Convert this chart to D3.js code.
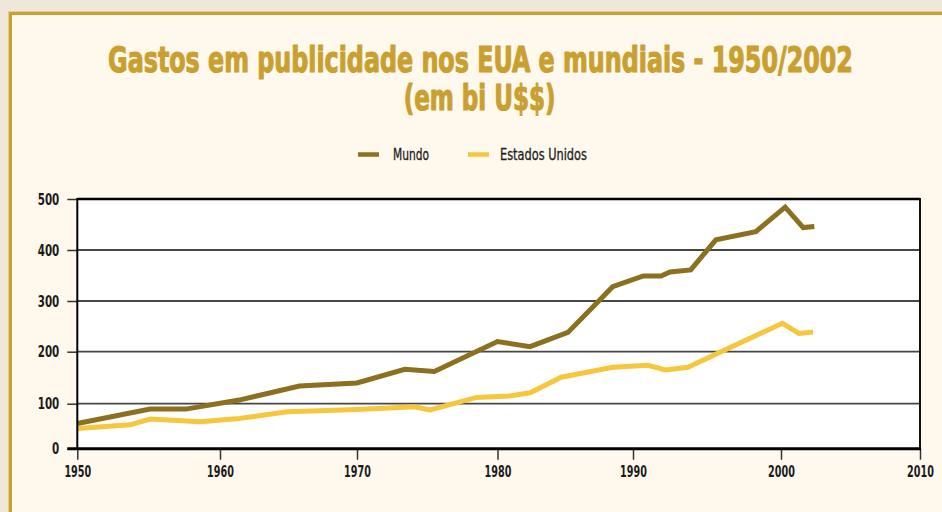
<!DOCTYPE html>
<html>
<head>
<meta charset="utf-8">
<script src="https://cdn.jsdelivr.net/npm/d3@7"></script>
<style>
  html, body { margin: 0; padding: 0; background: #efe8d8; }
  svg { display: block; }
  text { font-family: "Liberation Sans Narrow", "DejaVu Sans Condensed", "Liberation Sans", sans-serif; }
</style>
</head>
<body>
<svg id="chart" width="942" height="512"></svg>
<script>
// ---- Data ----
const titleLines = ["Gastos em publicidade nos EUA e mundiais - 1950/2002", "(em bi U$$)"];
const seriesNames = ["Mundo", "Estados Unidos"];

const mundoYears  = [1950, 1955.1, 1957.6, 1961.4, 1965.8, 1970, 1973.4, 1975.5, 1980, 1982.4, 1985.2, 1988.5, 1990.7, 1991.9, 1992.5, 1993.9, 1995.6, 1998.3, 2000.3, 2001.6, 2002.4];
const mundoValues = [56, 88, 88, 107, 134, 140, 166, 162, 220, 210, 238, 328, 349, 349, 357, 361, 420, 436, 484, 444, 446];

const euaYears  = [1950, 1953.7, 1955.1, 1958.6, 1961.4, 1964.9, 1970, 1974.1, 1975.2, 1978.5, 1980.9, 1982.4, 1984.7, 1988.5, 1991, 1992.2, 1993.7, 2000.1, 2001.3, 2002.3];
const euaValues = [45, 53, 66, 60, 67, 82, 87, 93, 86, 112, 115, 121, 151, 170, 174, 165, 170, 256, 236, 239];

const xTicks = [1950, 1960, 1970, 1980, 1990, 2000, 2010];
const yTicks = [0, 100, 200, 300, 400, 500];

// ---- Layout ----
const colors = { mundo: "#8c701f", eua: "#f6c63c", gold: "#c9a030", panel: "#fff8ec", outer: "#efe8d8" };
const svg = d3.select("#chart");

// tick pixel positions of the original (slightly uneven) axes
const xRange = [77.3, 220, 357, 497.5, 633, 781, 920];
const yRange = [448.7, 403.7, 351.7, 301, 250, 199];

const x = d3.scaleLinear().domain(xTicks).range(xRange);
const y = d3.scaleLinear().domain(yTicks).range(yRange);

// squeeze a text horizontally (condensed look) around its anchor point
function squeeze(textSel, widthFn) {
  textSel.each(function (d, i) {
    const t = d3.select(this);
    const w = this.getComputedTextLength();
    const target = widthFn(d, i, this);
    const s = Math.min(1, target / w);
    const ax = +(t.attr("x") || 0);
    t.attr("transform", `translate(${ax},0) scale(${s},1) translate(${-ax},0)`);
  });
}

// Background and panel
svg.append("rect").attr("x", 0).attr("y", 0).attr("width", 942).attr("height", 512).attr("fill", colors.outer);
svg.append("rect").attr("x", 8.5).attr("y", 11.5).attr("width", 960).attr("height", 520)
  .attr("fill", "none").attr("stroke", "#e2cf98").attr("stroke-width", 1);
svg.append("rect").attr("x", 10.5).attr("y", 13.5).attr("width", 960).attr("height", 520)
  .attr("fill", colors.panel).attr("stroke", colors.gold).attr("stroke-width", 3);

// Title
const titleWidths = [745, 152];
const titleY = [72, 110];
const titleX = [480.5, 479.6];
titleLines.forEach((txt, i) => {
  const t = svg.append("text").attr("x", titleX[i]).attr("y", titleY[i]).attr("text-anchor", "middle")
    .attr("fill", colors.gold).attr("stroke", colors.gold).attr("stroke-width", 1.1)
    .attr("stroke-linejoin", "round")
    .attr("font-size", 35).attr("font-weight", "bold")
    .text(txt);
  squeeze(t, () => titleWidths[i]);
});

// Legend
const legend = [
  { name: seriesNames[0], color: colors.mundo, x0: 358, tx: 393, w: 36 },
  { name: seriesNames[1], color: colors.eua, x0: 468, tx: 500, w: 87 }
];
legend.forEach(l => {
  svg.append("line").attr("x1", l.x0).attr("x2", l.x0 + 21).attr("y1", 154.5).attr("y2", 154.5)
    .attr("stroke", l.color).attr("stroke-width", 4.5);
  const t = svg.append("text").attr("x", l.tx).attr("y", 160.5).attr("fill", "#1e1e1e")
    .attr("stroke", "#1e1e1e").attr("stroke-width", 0.3)
    .attr("font-size", 15).text(l.name);
  squeeze(t, () => l.w);
});

// Plot area
const x0 = x(1950), x1 = x(2010), yTop = y(500), yBot = y(0);
svg.append("rect").attr("x", x0).attr("y", yTop).attr("width", x1 - x0).attr("height", yBot - yTop).attr("fill", "#ffffff");

// Gridlines
svg.append("g").selectAll("line").data(yTicks.filter(d => d > 0 && d < 500)).join("line")
  .attr("x1", x0).attr("x2", x1).attr("y1", d => y(d)).attr("y2", d => y(d))
  .attr("stroke", "#474747").attr("stroke-width", 1.8);

const tickFont = "'Liberation Sans Narrow', 'DejaVu Sans Condensed', sans-serif";

// Y axis
const yAxis = d3.axisLeft(y).tickValues(yTicks).tickSize(10).tickPadding(8).tickFormat(d3.format("d"));
const gy = svg.append("g").attr("transform", `translate(${x0},0)`).call(yAxis);
gy.select(".domain").remove();
gy.selectAll(".tick line").attr("stroke", "#333").attr("stroke-width", 1.5);
const yt = gy.selectAll(".tick text").attr("font-size", 16).attr("font-weight", "bold").attr("fill", "#1a1a1a")
  .attr("font-family", tickFont);
squeeze(yt, d => String(d).length * 7.2);

// X axis
const xAxis = d3.axisBottom(x).tickValues(xTicks).tickSize(11).tickPadding(6).tickFormat(d3.format("d"));
const gx = svg.append("g").attr("transform", `translate(0,${yBot})`).call(xAxis);
gx.select(".domain").remove();
gx.selectAll(".tick line").attr("stroke", "#333").attr("stroke-width", 1.5);
const xt = gx.selectAll(".tick text").attr("font-size", 16).attr("font-weight", "bold").attr("fill", "#1a1a1a")
  .attr("font-family", tickFont);
squeeze(xt, d => String(d).length * 6.7);

// Frame
svg.append("line").attr("x1", x0).attr("x2", x1).attr("y1", yTop).attr("y2", yTop).attr("stroke", "#000").attr("stroke-width", 2.5);
svg.append("line").attr("x1", x1).attr("x2", x1).attr("y1", yTop - 1).attr("y2", yBot).attr("stroke", "#111").attr("stroke-width", 2);

// Lines
const line = d3.line().x(d => x(d[0])).y(d => y(d[1]));
const euaData = euaYears.map((yr, i) => [yr, euaValues[i]]);
const mundoData = mundoYears.map((yr, i) => [yr, mundoValues[i]]);

svg.append("path").datum(euaData).attr("d", line).attr("fill", "none")
  .attr("stroke", colors.eua).attr("stroke-width", 5).attr("stroke-linejoin", "miter").attr("stroke-linecap", "butt");
svg.append("path").datum(mundoData).attr("d", line).attr("fill", "none")
  .attr("stroke", colors.mundo).attr("stroke-width", 5).attr("stroke-linejoin", "miter").attr("stroke-linecap", "butt");

// Axis lines on top
svg.append("line").attr("x1", x0).attr("x2", x0).attr("y1", yTop - 1).attr("y2", yBot + 1).attr("stroke", "#000").attr("stroke-width", 2);
svg.append("line").attr("x1", x0 - 10).attr("x2", x1 + 1).attr("y1", yBot).attr("y2", yBot).attr("stroke", "#000").attr("stroke-width", 3);
</script>
</body>
</html>
